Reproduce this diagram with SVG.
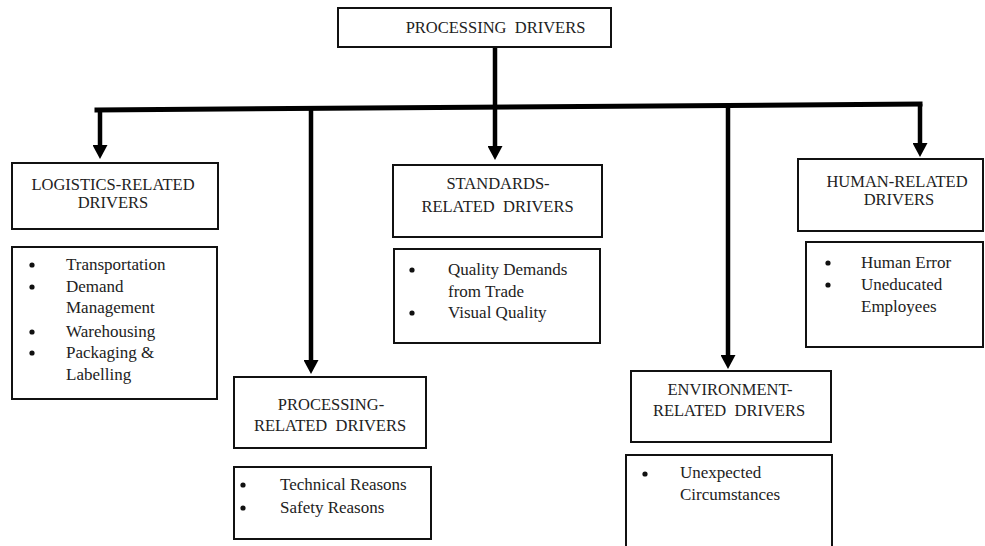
<svg xmlns="http://www.w3.org/2000/svg" width="985" height="546" viewBox="0 0 985 546">
<defs>
<style>
.box{fill:#fff;stroke:#111;stroke-width:2}
text{font-family:'Liberation Serif','Times New Roman','DejaVu Serif',serif}
.h{font-size:16.5px;fill:#222;text-anchor:middle}
.t{font-size:17px;fill:#222}
.dot{fill:#111}
.c{stroke:#000;stroke-width:4.5;fill:none}
.bar{stroke:#000;stroke-width:5;fill:none;stroke-linecap:square}
</style>
<marker id="ah" markerUnits="userSpaceOnUse" markerWidth="14" markerHeight="15" viewBox="0 0 14 15" refX="0" refY="7.5" orient="auto">
<path d="M0,0 L14,7.5 L0,15 z" fill="#000"/>
</marker>
</defs>
<rect width="985" height="546" fill="#fff"/>
<g id="connectors">
<line class="bar" x1="97" y1="110" x2="920" y2="104"/>
<line class="c" x1="495" y1="47" x2="495" y2="146" marker-end="url(#ah)"/>
<line class="c" x1="100" y1="110" x2="100" y2="145" marker-end="url(#ah)"/>
<line class="c" x1="311" y1="109" x2="311" y2="360" marker-end="url(#ah)"/>
<line class="c" x1="728" y1="106" x2="728" y2="355" marker-end="url(#ah)"/>
<line class="c" x1="920" y1="104" x2="920" y2="143" marker-end="url(#ah)"/>
</g>
<g id="root">
<rect class="box" x="338" y="8" width="273" height="39"/>
<text class="h" x="495.5" y="33">PROCESSING&#160; DRIVERS</text>
</g>
<g id="logistics">
<rect class="box" x="12" y="163" width="206" height="66"/>
<text class="h" x="113" y="190">LOGISTICS-RELATED</text>
<text class="h" x="113" y="208">DRIVERS</text>
</g>
<g id="logistics-list">
<rect class="box" x="12" y="247" width="205" height="152"/>
<circle class="dot" cx="32" cy="265" r="2.6"/><text class="t" x="66" y="270">Transportation</text>
<circle class="dot" cx="32" cy="287" r="2.6"/><text class="t" x="66" y="292">Demand</text>
<text class="t" x="66" y="313">Management</text>
<circle class="dot" cx="32" cy="332" r="2.6"/><text class="t" x="66" y="337">Warehousing</text>
<circle class="dot" cx="32" cy="353" r="2.6"/><text class="t" x="66" y="358">Packaging &amp;</text>
<text class="t" x="66" y="380">Labelling</text>
</g>
<g id="processing">
<rect class="box" x="234" y="377" width="192" height="71"/>
<text class="h" x="331" y="410">PROCESSING-</text>
<text class="h" x="330" y="431">RELATED&#160; DRIVERS</text>
</g>
<g id="processing-list">
<rect class="box" x="234" y="467" width="197" height="72"/>
<circle class="dot" cx="243" cy="485" r="2.6"/><text class="t" x="280" y="490">Technical Reasons</text>
<circle class="dot" cx="243" cy="508" r="2.6"/><text class="t" x="280" y="513">Safety Reasons</text>
</g>
<g id="standards">
<rect class="box" x="393" y="165" width="209" height="72"/>
<text class="h" x="498" y="189">STANDARDS-</text>
<text class="h" x="497.5" y="211.5">RELATED&#160; DRIVERS</text>
</g>
<g id="standards-list">
<rect class="box" x="394" y="249" width="206" height="94"/>
<circle class="dot" cx="412" cy="270" r="2.6"/><text class="t" x="448" y="275">Quality Demands</text>
<text class="t" x="448" y="297">from Trade</text>
<circle class="dot" cx="412" cy="313" r="2.6"/><text class="t" x="448" y="318">Visual Quality</text>
</g>
<g id="environment">
<rect class="box" x="631" y="371" width="200" height="71"/>
<text class="h" x="730" y="395">ENVIRONMENT-</text>
<text class="h" x="729" y="416">RELATED&#160; DRIVERS</text>
</g>
<g id="environment-list">
<rect class="box" x="626" y="455" width="206" height="100"/>
<circle class="dot" cx="645" cy="474" r="2.6"/><text class="t" x="680" y="478">Unexpected</text>
<text class="t" x="680" y="500">Circumstances</text>
</g>
<g id="human">
<rect class="box" x="798" y="159" width="185" height="72"/>
<text class="h" x="897" y="187">HUMAN-RELATED</text>
<text class="h" x="899" y="205">DRIVERS</text>
</g>
<g id="human-list">
<rect class="box" x="806" y="242" width="177" height="105"/>
<circle class="dot" cx="828" cy="263" r="2.6"/><text class="t" x="861" y="268">Human Error</text>
<circle class="dot" cx="828" cy="285" r="2.6"/><text class="t" x="861" y="290">Uneducated</text>
<text class="t" x="861" y="312">Employees</text>
</g>
</svg>
